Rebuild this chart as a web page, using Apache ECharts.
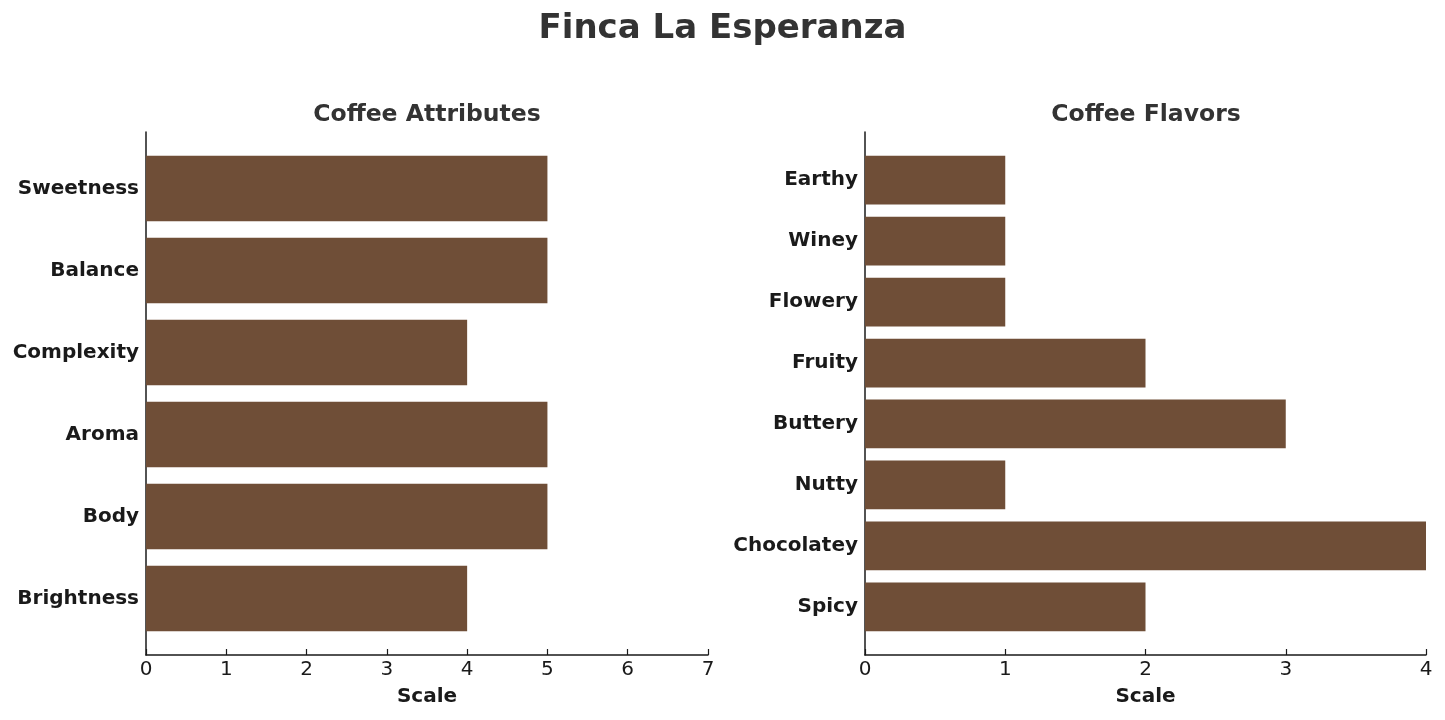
<!DOCTYPE html>
<html><head><meta charset="utf-8">
<script src="https://cdn.jsdelivr.net/npm/echarts@6/dist/echarts.min.js"></script>
<style>html,body{margin:0;padding:0;background:#fff}#c{width:1445px;height:720px}</style>
</head><body><div id="c"></div>
<script>
const attrCategories = ['Brightness','Body','Aroma','Complexity','Balance','Sweetness'];
const attrValues = [4,5,5,4,5,5];
const flavorCategories = ['Spicy','Chocolatey','Nutty','Buttery','Fruity','Flowery','Winey','Earthy'];
const flavorValues = [2,4,1,3,2,1,1,1];
const attrTicks = {min:0,max:7,interval:1};
const flavorTicks = {min:0,max:4,interval:1};

const FONT = 'DejaVu Sans';
const BAR = '#6F4E37';
const AX = '#1a1a1a';
const chart = echarts.init(document.getElementById('c'));

const plotTop = 132, plotH = 523;
function bandLayout(n){ // matplotlib-like: bars height 0.8, 5% margins
  const range = (n - 1 + 0.8) * 1.1;
  const band = plotH / range;
  const h = band * n;
  return {top: plotTop + (plotH - h) / 2, height: h};
}
const la = bandLayout(attrCategories.length);
const lf = bandLayout(flavorCategories.length);

const panels = [
  {left:146, width:562, cats:attrCategories, vals:attrValues, ticks:attrTicks, lay:la},
  {left:865, width:561, cats:flavorCategories, vals:flavorValues, ticks:flavorTicks, lay:lf}
];

const grid=[], xAxis=[], yAxis=[], series=[];
panels.forEach((p,i)=>{
  grid.push({left:p.left, width:p.width, top:plotTop, height:plotH, containLabel:false});
  grid.push({left:p.left, width:p.width, top:p.lay.top, height:p.lay.height, containLabel:false});
  const g0 = i*2, g1 = i*2+1;
  xAxis.push({gridIndex:g0, type:'value', min:p.ticks.min, max:p.ticks.max, interval:p.ticks.interval,
    name:'Scale', nameLocation:'middle', nameGap:32,
    nameTextStyle:{fontFamily:FONT, fontWeight:'bold', fontSize:20, color:AX},
    axisLine:{show:true, lineStyle:{color:AX, width:1.5}},
    axisTick:{show:true, inside:true, length:6, lineStyle:{color:AX, width:1.2}},
    axisLabel:{show:true, fontFamily:FONT, fontSize:20, color:AX, margin:5},
    splitLine:{show:false}});
  xAxis.push({gridIndex:g1, type:'value', min:p.ticks.min, max:p.ticks.max, interval:p.ticks.interval, show:false});
  yAxis.push({gridIndex:g0, type:'value', min:0, max:1, axisLine:{show:true, lineStyle:{color:AX, width:1.5}},
    axisTick:{show:false}, axisLabel:{show:false}, splitLine:{show:false}});
  yAxis.push({gridIndex:g1, type:'category', data:p.cats, boundaryGap:true,
    axisLine:{show:false},
    axisTick:{show:true, inside:true, alignWithLabel:true, length:6, lineStyle:{color:AX, width:1.2}},
    axisLabel:{fontFamily:FONT, fontWeight:'bold', fontSize:20, color:AX, margin:7, padding:[2,0,0,0]},
    splitLine:{show:false}});
  series.push({type:'bar', xAxisIndex:g1, yAxisIndex:g1, data:p.vals, barCategoryGap:'20%',
    itemStyle:{color:BAR}, silent:true, animation:false});
});

chart.setOption({
  backgroundColor:'#fff',
  animation:false,
  title:[
    {text:'Finca La Esperanza', left:'center', top:7, textStyle:{fontFamily:FONT, fontWeight:'bold', fontSize:34, color:'#333'}},
    {text:'Coffee Attributes', left:146+281-5, textAlign:'center', top:98, textStyle:{fontFamily:FONT, fontWeight:'bold', fontSize:23.5, color:'#333'}},
    {text:'Coffee Flavors', left:865+280-4, textAlign:'center', top:98, textStyle:{fontFamily:FONT, fontWeight:'bold', fontSize:23.5, color:'#333'}}
  ],
  grid, xAxis, yAxis, series
});
</script></body></html>
